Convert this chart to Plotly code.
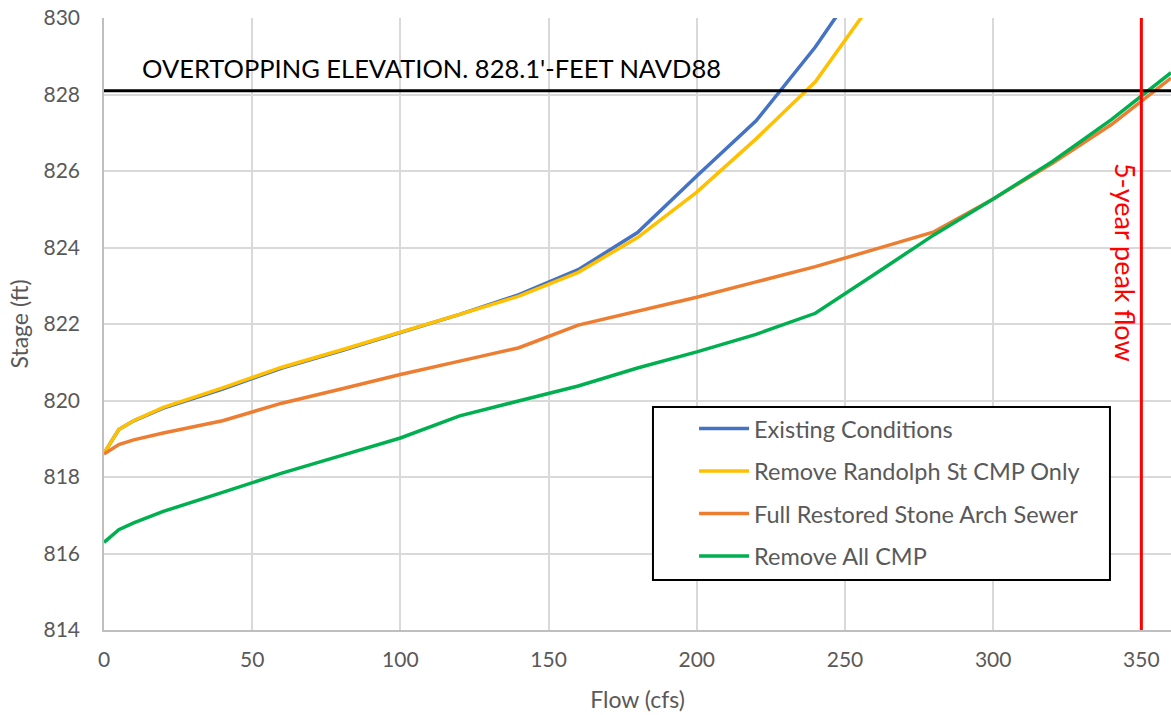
import plotly.graph_objects as go

flow = [0, 5, 10, 20, 40, 60, 80, 100, 120, 140, 160, 180, 200, 220, 240, 260]
existing = [818.62, 819.24, 819.47, 819.8, 820.3, 820.85, 821.3, 821.77, 822.25, 822.77, 823.42, 824.39, 825.87, 827.31, 829.24, 831.5]
randolph = [818.62, 819.24, 819.47, 819.82, 820.33, 820.87, 821.32, 821.78, 822.25, 822.73, 823.35, 824.26, 825.45, 826.84, 828.33, 830.5]

flow_full = [0, 5, 10, 20, 40, 60, 80, 100, 120, 140, 160, 180, 200, 220, 240, 260, 280, 300, 320, 340, 360]
restored = [818.6, 818.85, 818.97, 819.15, 819.47, 819.93, 820.3, 820.68, 821.03, 821.38, 821.97, 822.34, 822.7, 823.1, 823.5, 823.95, 824.41, 825.27, 826.2, 827.22, 828.43]
remove_all = [816.29, 816.62, 816.8, 817.1, 817.6, 818.1, 818.56, 819.02, 819.6, 820.0, 820.38, 820.85, 821.27, 821.73, 822.28, 823.3, 824.33, 825.27, 826.25, 827.35, 828.57]

names = ["Existing Conditions", "Remove Randolph St CMP Only", "Full Restored Stone Arch Sewer", "Remove All CMP"]
colors = ["#4472C4", "#FFC000", "#ED7D31", "#00B050"]

overtop_elev = 828.1
peak_flow = 350
x_ticks = [0, 50, 100, 150, 200, 250, 300, 350]
y_ticks = [814, 816, 818, 820, 822, 824, 826, 828, 830]

FONT = "Lato"
fig = go.Figure()
series = [(flow, existing), (flow, randolph), (flow_full, restored), (flow_full, remove_all)]
for i, ((xs, ys), nm, c) in enumerate(zip(series, names, colors)):
    fig.add_trace(go.Scatter(x=xs, y=ys, mode="lines", name=nm, legendgroup=f"g{i}",
                             line=dict(color=c, width=3.5)))

# legend frame
fig.add_shape(type="rect", xref="paper", yref="paper", x0=0.5145, x1=0.9428, y0=0.0817, y1=0.3644,
              line=dict(color="black", width=2), fillcolor="white", layer="above")

fig.add_shape(type="line", xref="paper", x0=0, x1=1, yref="y", y0=overtop_elev, y1=overtop_elev,
              line=dict(color="black", width=3), layer="above")
fig.add_shape(type="line", xref="x", x0=peak_flow, x1=peak_flow, yref="paper", y0=0, y1=1,
              line=dict(color="#FF0000", width=3), layer="above")

fig.add_annotation(x=12, y=overtop_elev, xref="x", yref="y", xanchor="left", yanchor="bottom",
                   yshift=6, showarrow=False, text="OVERTOPPING ELEVATION. 828.1'-FEET NAVD88",
                   font=dict(family=FONT, size=25.5, color="black"))
fig.add_annotation(x=peak_flow, y=823.6, xref="x", yref="y", xanchor="right", xshift=2,
                   showarrow=False, text="5-year peak flow", textangle=90,
                   font=dict(family=FONT, size=27, color="#FF0000"))

fig.update_layout(
    width=1171, height=715,
    margin=dict(l=104, r=0, t=18, b=85),
    plot_bgcolor="white", paper_bgcolor="white",
    font=dict(family=FONT, size=21, color="#595959"),
    showlegend=True,
    legend=dict(x=0.553, y=0.365, xanchor="left", yanchor="top",
                bgcolor="rgba(0,0,0,0)", borderwidth=0,
                font=dict(family=FONT, size=23.5, color="#595959"),
                itemwidth=50, tracegroupgap=9),
    xaxis=dict(range=[0, 360], tickvals=x_ticks, showgrid=True, gridcolor="#D9D9D9", gridwidth=1.5,
               showline=True, linecolor="#BFBFBF", linewidth=1.5, zeroline=False, ticks="",
               ticklabelstandoff=10,
               title=dict(text="Flow (cfs)", standoff=22, font=dict(size=23, color="#595959"))),
    yaxis=dict(range=[814, 830], tickvals=y_ticks, showgrid=True, gridcolor="#D9D9D9", gridwidth=1.5,
               showline=True, linecolor="#BFBFBF", linewidth=1.5, zeroline=False, ticks="",
               ticklabelstandoff=18,
               title=dict(text="Stage (ft)", standoff=8, font=dict(size=23, color="#595959"))),
)

fig.write_html("out.html", config={"displayModeBar": False},
               post_script="document.body.style.margin='0';document.body.style.overflow='hidden';")
